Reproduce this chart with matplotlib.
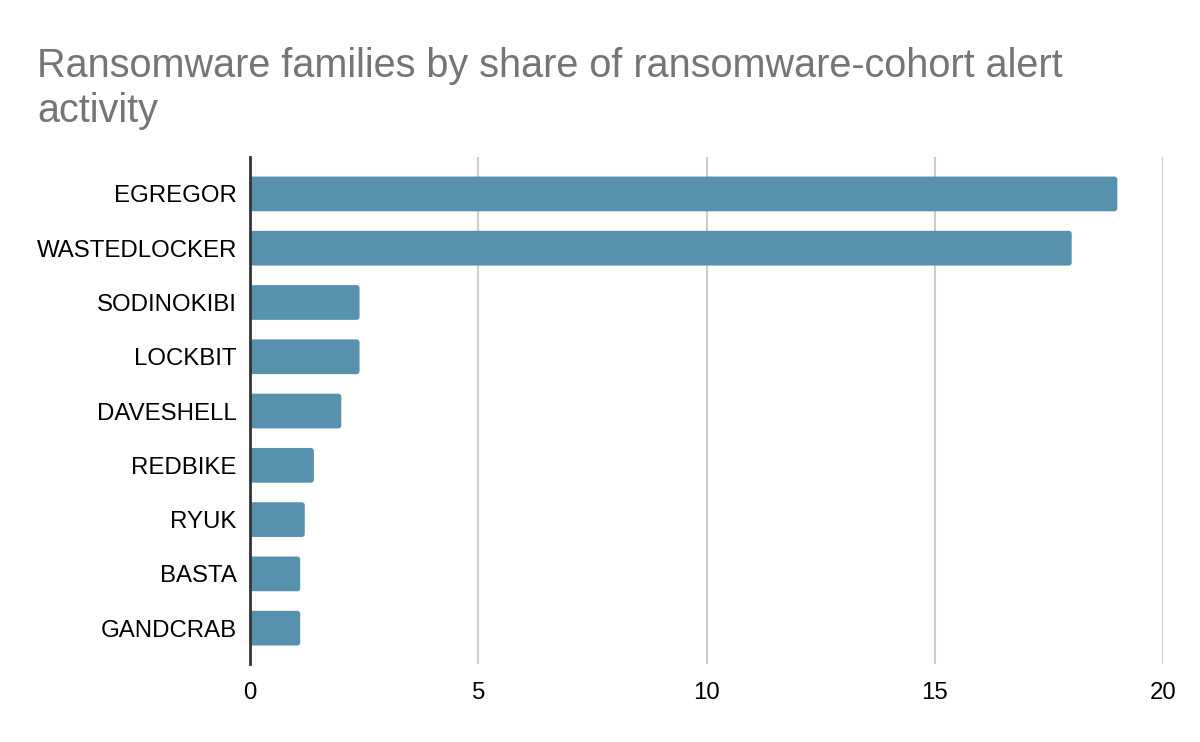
import matplotlib.pyplot as plt
from matplotlib.patches import FancyBboxPatch

families = ['EGREGOR', 'WASTEDLOCKER', 'SODINOKIBI', 'LOCKBIT', 'DAVESHELL',
            'REDBIKE', 'RYUK', 'BASTA', 'GANDCRAB']
share = [19.0, 18.0, 2.4, 2.4, 2.0, 1.4, 1.2, 1.1, 1.1]
xticks = [0, 5, 10, 15, 20]

plt.rcParams['font.family'] = ['Liberation Sans', 'DejaVu Sans']

fig = plt.figure(figsize=(12, 7.42), dpi=100)
ax = fig.add_axes([250 / 1200, 1 - 664 / 742, 913 / 1200, (664 - 157) / 742])

bar_col = '#5891ad'
bars = ax.barh(range(len(families)), share, height=0.64, color='none')
ax.set_xlim(0, 20)
ax.set_ylim(len(families) - 1 + 0.66, -0.68)

# swap the plain bars for ones with rounded corners
px_x = 20 / 913.0
px_y = (len(families) - 1 + 0.66 + 0.68) / 507.0
for b in bars:
    x0, y0 = b.get_x(), b.get_y()
    w, h = b.get_width(), b.get_height()
    p = FancyBboxPatch((x0, y0), w, h,
                       boxstyle='round,pad=0,rounding_size=%f' % (3 * px_x),
                       mutation_aspect=px_y / px_x,
                       facecolor=bar_col, edgecolor='none', zorder=2)
    ax.add_patch(p)
    b.remove()

ax.set_yticks(range(len(families)))
ax.set_yticklabels(families, fontsize=17.3, color='black')
ax.set_xticks(xticks)
ax.set_xticklabels([str(t) for t in xticks], fontsize=17.3, color='black')
ax.tick_params(axis='both', length=0)
ax.tick_params(axis='y', pad=9.5)
ax.tick_params(axis='x', pad=13)

ax.grid(axis='x', color='#cccccc', linewidth=1.5, zorder=0)
ax.set_axisbelow(True)
for s in ['top', 'right', 'bottom']:
    ax.spines[s].set_visible(False)
ax.spines['left'].set_color('#333333')
ax.spines['left'].set_linewidth(2)
ax.spines['left'].set_zorder(3)

fig.text(37 / 1200, 1 - 47 / 742,
         'Ransomware families by share of ransomware-cohort alert\nactivity',
         fontsize=28.5, color='#757575', ha='left', va='top', linespacing=1.22)

fig.savefig('out.png', dpi=100)
